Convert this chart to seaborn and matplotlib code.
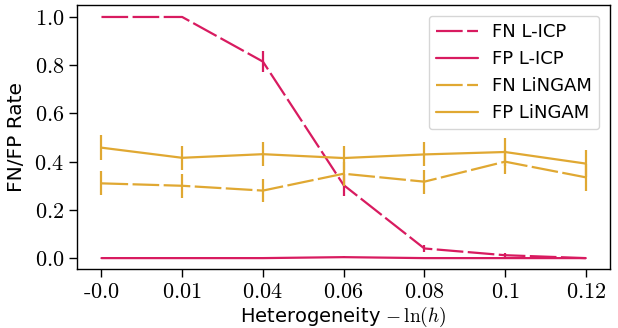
import numpy as np
import pandas as pd
import matplotlib
matplotlib.use('Agg')
import matplotlib.pyplot as plt
import seaborn as sns

# Datos
heterogeneity_labels = ['-0.0', '0.01', '0.04', '0.06', '0.08', '0.1', '0.12']

fn_licp = [1.0, 1.0, 0.815, 0.303, 0.04, 0.012, 0.0]
fn_licp_err = [0.0, 0.0, 0.045, 0.045, 0.015, 0.008, 0.0]
fp_licp = [0.0, 0.0, 0.0, 0.004, 0.0, 0.0, 0.0]
fp_licp_err = [0.0, 0.0, 0.0, 0.004, 0.0, 0.0, 0.0]

fn_lingam = [0.31, 0.30, 0.28, 0.35, 0.317, 0.40, 0.335]
fn_lingam_err = [0.05, 0.05, 0.046, 0.05, 0.05, 0.05, 0.055]
fp_lingam = [0.458, 0.416, 0.431, 0.415, 0.43, 0.44, 0.392]
fp_lingam_err = [0.052, 0.05, 0.05, 0.05, 0.05, 0.058, 0.056]

series_names = ['FN L-ICP', 'FP L-ICP', 'FN LiNGAM', 'FP LiNGAM']

# Estilo
sns.set_theme(style='ticks')
plt.rcParams['font.family'] = ['DejaVu Sans']
plt.rcParams['mathtext.fontset'] = 'cm'
plt.rcParams['axes.edgecolor'] = 'black'
plt.rcParams['xtick.color'] = 'black'
plt.rcParams['ytick.color'] = 'black'
plt.rcParams['text.color'] = 'black'
plt.rcParams['axes.labelcolor'] = 'black'

PINK = '#D81B60'
GOLD = '#E0A832'

colors = {'FN L-ICP': PINK, 'FP L-ICP': PINK, 'FN LiNGAM': GOLD, 'FP LiNGAM': GOLD}
dashes = {'FN L-ICP': (12, 2), 'FP L-ICP': '', 'FN LiNGAM': (12, 2), 'FP LiNGAM': ''}

x = np.arange(len(heterogeneity_labels))
valores = [fn_licp, fp_licp, fn_lingam, fp_lingam]
errores = [fn_licp_err, fp_licp_err, fn_lingam_err, fp_lingam_err]

df = pd.DataFrame({
    'x': np.tile(x, len(series_names)),
    'rate': np.concatenate(valores),
    'serie': np.repeat(series_names, len(x)),
})

fig, ax = plt.subplots(figsize=(6.18, 3.28), dpi=100)
fig.subplots_adjust(left=0.125, right=0.987, top=0.985, bottom=0.18)

sns.lineplot(data=df, x='x', y='rate', hue='serie', style='serie',
             palette=colors, dashes=dashes, hue_order=series_names,
             style_order=series_names, linewidth=1.6, ax=ax)

# Barras de error verticales sin tapas
for nombre, vals, errs in zip(series_names, valores, errores):
    ax.errorbar(x, vals, yerr=errs, fmt='none', ecolor=colors[nombre],
                elinewidth=1.6, capsize=0)

ax.set_xlim(-0.3, 6.3)
ax.set_ylim(-0.045, 1.05)
ax.set_xticks(x)
ax.set_xticklabels([r'$\text{-}0.0$'] + [f'${t}$' for t in heterogeneity_labels[1:]],
                   fontsize=16)
yt = [0.0, 0.2, 0.4, 0.6, 0.8, 1.0]
ax.set_yticks(yt)
ax.set_yticklabels([f'${v:.1f}$' for v in yt], fontsize=16)
ax.tick_params(axis='both', length=6, width=1)
for s in ax.spines.values():
    s.set_linewidth(1.0)

ax.set_xlabel(r'Heterogeneity $-\,\ln(h)$', fontsize=14, labelpad=2)
ax.set_ylabel('FN/FP Rate', fontsize=14.5, labelpad=6)

leg = ax.legend(loc='upper right', fontsize=13, title=None, handlelength=2.3,
                frameon=True, borderaxespad=0.6)

plt.savefig('out.png', dpi=100)
plt.close()
